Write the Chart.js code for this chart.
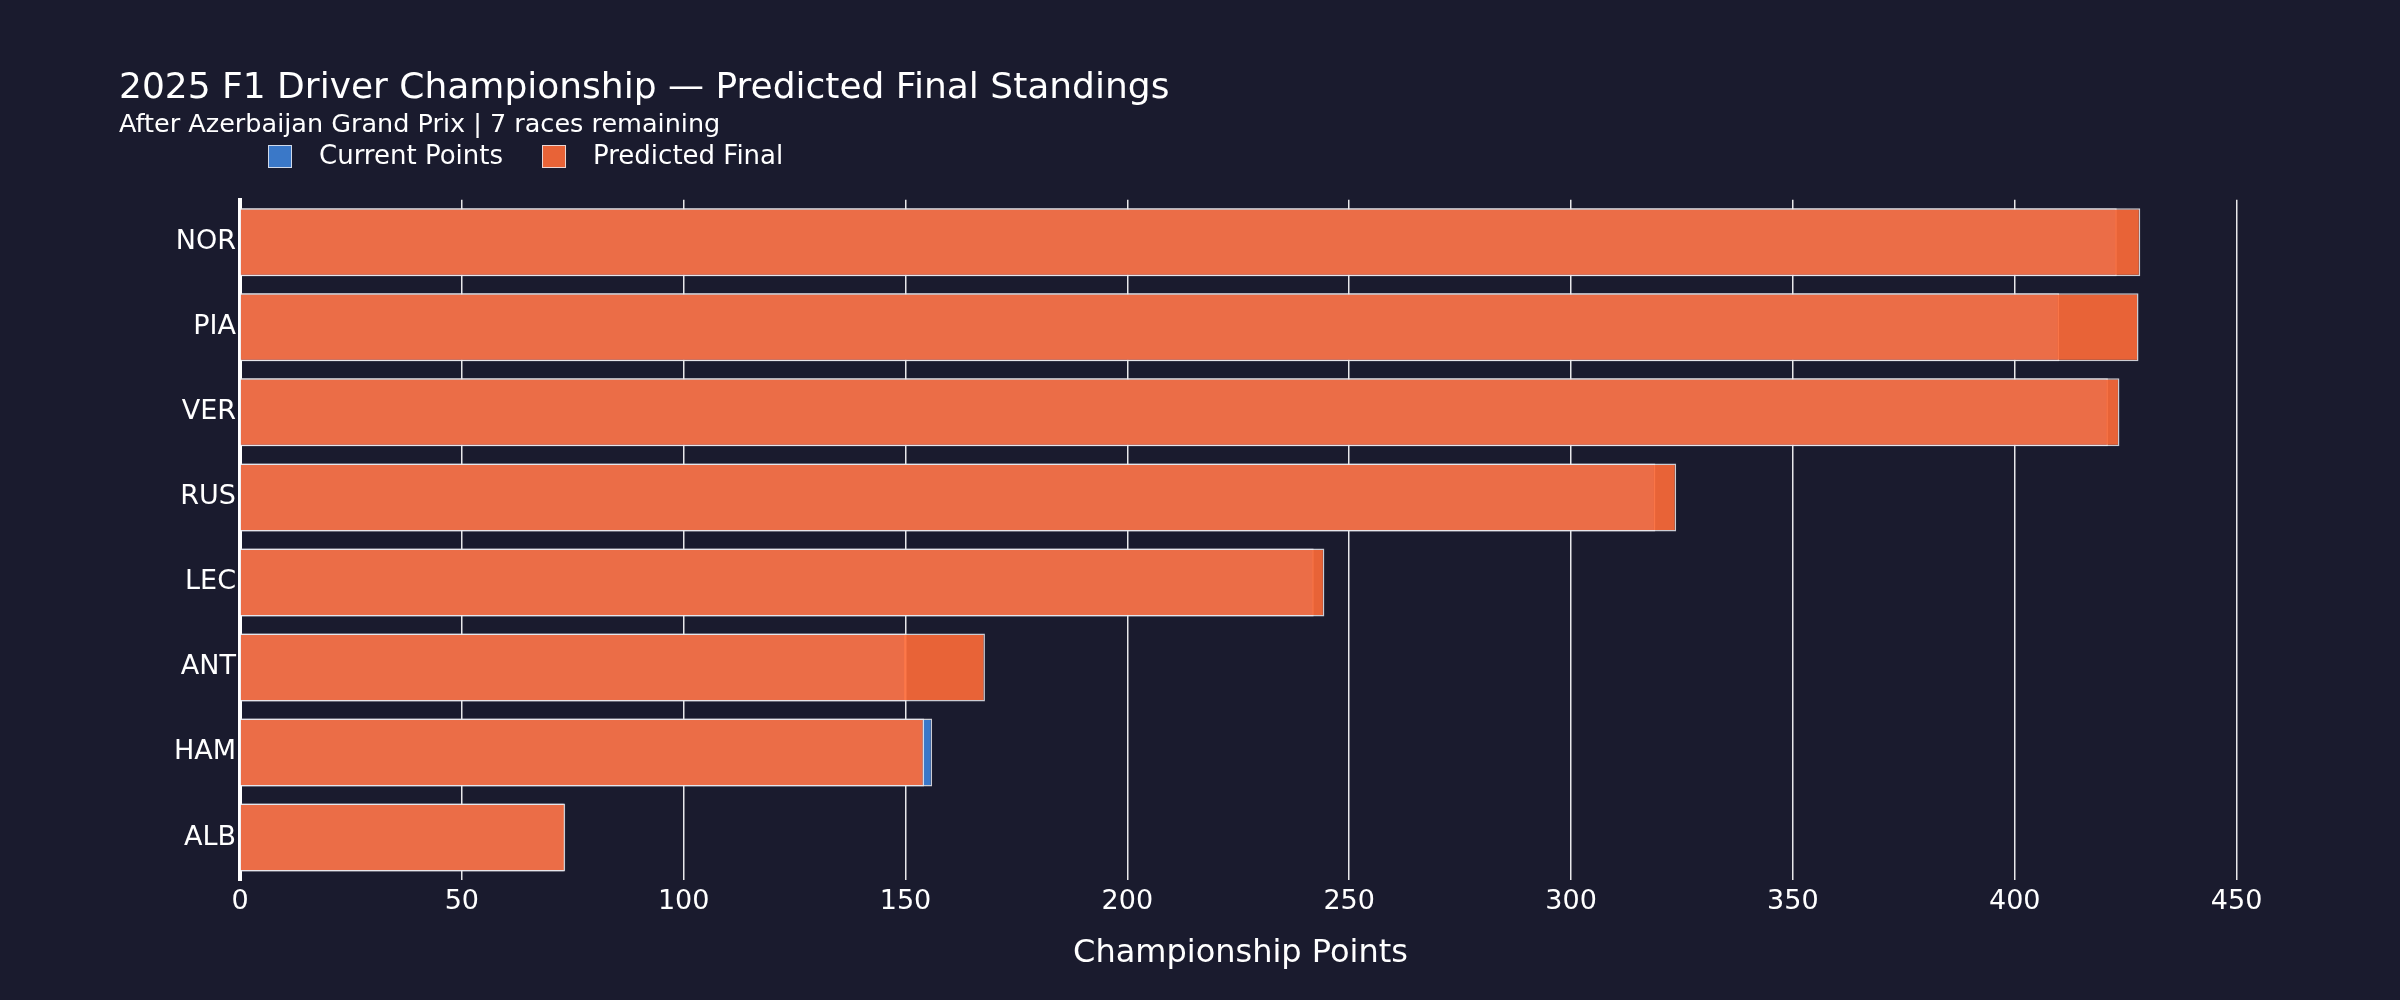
<!DOCTYPE html>
<html>
<head>
<meta charset="utf-8">
<script src="https://cdn.jsdelivr.net/npm/chart.js@4.4.1/dist/chart.umd.min.js"></script>
<style>
  body { margin: 0; background: #1a1b2e; }
  .wrap { width: 2400px; height: 1000px; }
</style>
</head>
<body>
<div class="wrap"><canvas id="standings"></canvas></div>
<script>
const drivers = ['NOR', 'PIA', 'VER', 'RUS', 'LEC', 'ANT', 'HAM', 'ALB']
const currentPoints = [423, 410, 421, 319, 242, 150, 156, 73]
const predictedFinal = [428.3, 427.9, 423.6, 323.7, 244.4, 167.9, 154.2, 73.3]
const xTicks = [0, 50, 100, 150, 200, 250, 300, 350, 400, 450]

const FONT = "'DejaVu Sans', sans-serif"
const BLUE = '#3a78c8'
const ORANGE = 'rgba(255,108,57,0.9)'
const EDGE = 'rgba(235,235,240,0.85)'

// legend drawn in the gap under the subtitle, plotly style
const headerLegend = {
	id: 'headerLegend',
	afterDraw(chart) {
		const ctx = chart.ctx
		let x = 268
		ctx.save()
		ctx.font = '26px ' + FONT
		ctx.textBaseline = 'middle'
		chart.data.datasets.forEach((ds) => {
			ctx.fillStyle = ds.backgroundColor
			ctx.fillRect(x, 145, 24, 23)
			ctx.strokeStyle = EDGE
			ctx.lineWidth = 1
			ctx.strokeRect(x + 0.5, 145.5, 23, 22)
			ctx.fillStyle = '#ffffff'
			ctx.fillText(ds.label, x + 51, 157)
			x += 51 + ctx.measureText(ds.label).width + 39
		})
		ctx.restore()
	}
}

new Chart(document.getElementById('standings').getContext('2d'), {
	type: 'bar',
	data: {
		labels: drivers,
		datasets: [
			{
				label: 'Current Points',
				data: currentPoints,
				backgroundColor: BLUE,
				borderColor: EDGE,
				borderWidth: 1.5,
				grouped: false,
				order: 2
			},
			{
				label: 'Predicted Final',
				data: predictedFinal,
				backgroundColor: ORANGE,
				borderColor: EDGE,
				borderWidth: 1.5,
				grouped: false,
				order: 1
			}
		]
	},
	options: {
		indexAxis: 'y',
		responsive: true,
		maintainAspectRatio: false,
		animation: false,
		categoryPercentage: 1,
		barPercentage: 0.8,
		layout: { padding: { left: 119, right: 159, top: 0, bottom: 0 } },
		plugins: {
			legend: { display: false },
			tooltip: { enabled: false },
			title: {
				display: true,
				text: '2025 F1 Driver Championship — Predicted Final Standings',
				align: 'start',
				color: '#ffffff',
				font: { family: FONT, size: 36, weight: 'normal' },
				padding: { top: 67, bottom: 0 }
			},
			subtitle: {
				display: true,
				text: 'After Azerbaijan Grand Prix | 7 races remaining',
				align: 'start',
				color: '#ffffff',
				font: { family: FONT, size: 25.5, weight: 'normal' },
				padding: { top: 0, bottom: 59 }
			}
		},
		scales: {
			x: {
				type: 'linear',
				min: 0,
				max: 451,
				afterFit: (scale) => { scale.height = 120 },
				afterBuildTicks: (scale) => { scale.ticks = xTicks.map((v) => ({ value: v })) },
				ticks: {
					color: '#ffffff',
					font: { family: FONT, size: 27 },
					padding: 6,
					includeBounds: false
				},
				grid: {
					color: 'rgba(255,255,255,0.9)',
					lineWidth: 1.5,
					drawTicks: false
				},
				border: { display: false },
				title: {
					display: true,
					text: 'Championship Points',
					color: '#ffffff',
					font: { family: FONT, size: 32 },
					padding: { top: 0, bottom: 27 }
				}
			},
			y: {
				afterFit: (scale) => { scale.width = 121 },
				ticks: {
					color: '#ffffff',
					font: { family: FONT, size: 27 },
					padding: 4
				},
				grid: { display: false, drawTicks: false },
				border: { display: true, color: '#ffffff', width: 4 }
			}
		}
	},
	plugins: [headerLegend]
})
</script>
</body>
</html>
